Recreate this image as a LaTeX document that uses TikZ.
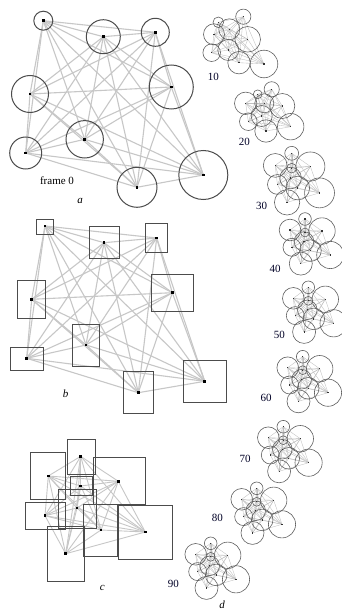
\documentclass[tikz,border=0pt]{standalone}
\usepackage{fontspec}
\setmainfont{Liberation Serif}
\newcommand\completeg[2]{%
  \foreach \i in {1,...,8}{%
    \pgfmathtruncatemacro\nexti{\i+1}%
    \foreach \j in {\nexti,...,9}{\draw[#2] (#1\i) -- (#1\j);}}}
\newcommand\bigdots[1]{\foreach \k in {1,...,9}{\fill (#1\k) ++(-1.3,-1.3) rectangle ++(2.6,2.6);}}
\newcommand\smalldots[1]{\foreach \k in {1,...,9}{\fill[black!80] (#1\k) ++(-0.6,-0.6) rectangle ++(1.2,1.2);}}
\newcommand\cluster[2]{%
  \foreach \x/\y/\r [count=\k] in {#2}{\coordinate (#1\k) at (\x,\y);}
  \completeg{#1}{miniedge}
  \foreach \x/\y/\r [count=\k] in {#2}{\draw[minicirc] (#1\k) circle[radius=\r*1pt];}
  \smalldots{#1}}
\newcommand\tmpl{0/0/6.3, 0/13.5/4.4, -15/11/10.8, 17/12/13.2, -1/22.5/9.8, -13/28.3/9, 5.5/31.6/10.8, -4.2/44.6/11.5, 25.3/36/13.6}
\newcommand\tcluster[4]{%
  \foreach \dx/\dy/\r [count=\k] in \tmpl{\coordinate (#1\k) at ({#2+#4*(\dx)},{#3+#4*(\dy)});}
  \completeg{#1}{miniedge}
  \foreach \dx/\dy/\r [count=\k] in \tmpl{\draw[minicirc] (#1\k) circle[radius=#4*\r*1pt];}
  \smalldots{#1}}
\begin{document}
\begin{tikzpicture}[x=1pt,y=-1pt,
  edge/.style={draw=black!22,line width=1.1pt},
  cedge/.style={draw=black!22,line width=0.9pt},
  circ/.style={draw=black!70,line width=1pt},
  boxst/.style={draw=black!70,line width=1pt},
  miniedge/.style={draw=black!25,line width=0.35pt},
  minicirc/.style={draw=black!62,line width=0.6pt},
  lbl/.style={font=\fontsize{11}{12}\selectfont,text=black!85!blue,inner sep=0pt},
  panel/.style={font=\fontsize{11}{12}\selectfont\itshape,inner sep=0pt}]
\fill[white] (0,0) rectangle (342,610);
\useasboundingbox (0,0) rectangle (342,610);
% ---------- panel a ----------
\foreach \n/\x/\y in {1/43.3/20.7, 2/103.3/36.7, 3/155.3/32.3, 4/30/94, 5/171.3/87, 6/84.7/139.3, 7/25.7/153, 8/137/187.3, 9/203.3/175}
  {\coordinate (a\n) at (\x,\y);}
\completeg{a}{edge}
\foreach \n/\r in {1/9.5, 2/17, 3/14, 4/18.5, 5/22, 6/18.7, 7/16, 8/20, 9/24.5}
  {\draw[circ] (a\n) circle[radius=\r*1pt];}
\bigdots{a}
\node[lbl,text=black] (fr) at (57,181) {frame 0};
\node[panel] (la) at (80,201) {a};
% ---------- panel b ----------
\foreach \n/\x/\y in {1/45/226, 2/104/242.7, 3/156.7/238, 4/31.7/299.3, 5/172.3/292.7, 6/86/345, 7/26.7/358.3, 8/138.3/392.7, 9/204.7/381.3}
  {\coordinate (b\n) at (\x,\y);}
\completeg{b}{edge}
\foreach \xa/\ya/\xb/\yb in {36/219/53.3/234.3, 89.3/226.7/119.3/258.3, 145.7/223.3/167.7/252.3, 17.3/280.7/45.7/318.3, 151.7/274/193.7/311.3, 72.3/324/99.7/366, 10/347.3/43.3/370, 123.7/371.3/153.3/413, 183/360/226.7/402.7}
  {\draw[boxst] (\xa,\ya) rectangle (\xb,\yb);}
\bigdots{b}
\node[panel] (lb) at (65.7,393.3) {b};
% ---------- panel c ----------
\foreach \n/\x/\y in {1/48.3/476, 2/80.7/456.3, 3/118.3/481.3, 4/80.7/486, 5/77/508, 6/45/515.7, 7/101/530, 8/145.3/532, 9/65.7/553.7}
  {\coordinate (c\n) at (\x,\y);}
\completeg{c}{cedge}
\foreach \xa/\ya/\xb/\yb in {30.7/452.3/65.3/499, 67.3/439/95/474.3, 93.3/457.7/145/504.3, 70/476.7/92.7/495.3, 58.7/489/96.3/528.3, 25/502/65.3/529.7, 83.3/504.3/117.7/556.7, 118.3/505.7/172.3/559.3, 47.3/526.7/84.7/581.7}
  {\draw[boxst] (\xa,\ya) rectangle (\xb,\yb);}
\bigdots{c}
\node[panel] (lc) at (102.3,588.3) {c};
% ---------- panel d ----------
\cluster{p}{218.3/22.3/5.3, 243.3/16.7/7.6, 214/34.3/10.5, 229.3/29.3/10.5, 247.7/39.3/12.8, 211.7/52.7/8.8, 228.3/50/10.5, 239/62.7/11.2, 264/64/13.8}
\cluster{q}{257.7/94.3/4.4, 271.7/89.3/7.6, 245.7/103.3/11.2, 264.3/103.3/9.5, 282.3/106/12.5, 248.3/121.7/8.8, 261.7/116/10.5, 266/131/11.2, 290.7/126.7/13.2}
\tcluster{r}{291.7}{153.3}{1.1}
\tcluster{s}{305}{219}{1}
\tcluster{t}{308.3}{287.3}{1}
\tcluster{u}{302.7}{356.7}{1}
\tcluster{v}{283.3}{426.7}{1}
\tcluster{w}{256.7}{488.3}{1}
\tcluster{z}{210.7}{543.3}{1}
\node[lbl] (l10) at (213.3,76.7) {10};
\node[lbl] (l20) at (244.3,141.7) {20};
\node[lbl] (l30) at (261.7,206) {30};
\node[lbl] (l40) at (275,269) {40};
\node[lbl] (l50) at (279.3,335) {50};
\node[lbl] (l60) at (266,398.3) {60};
\node[lbl] (l70) at (245,459.3) {70};
\node[lbl] (l80) at (217.3,517.7) {80};
\node[lbl] (l90) at (173.3,584.3) {90};
\node[panel] (ld) at (222,605) {d};
\end{tikzpicture}
\end{document}
